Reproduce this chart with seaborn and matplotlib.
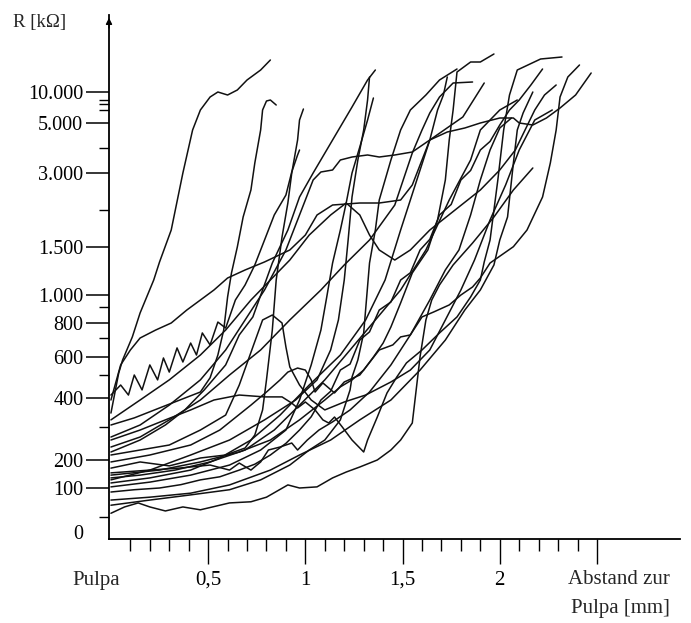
import numpy as np
import pandas as pd
import seaborn as sns
import matplotlib
matplotlib.use('Agg')
import matplotlib.pyplot as plt

# distance to pulp [mm] and resistance [kOhm], one pair of lists per measurement
mm_01 = [0.00, 0.04, 0.06, 0.11, 0.15, 0.22, 0.25, 0.31, 0.37, 0.42, 0.46, 0.51, 0.55, 0.60, 0.65, 0.70, 0.77, 0.82]
kohm_01 = [348, 511, 582, 707, 861, 1155, 1342, 1727, 3000, 4708, 6000, 8779, 10067, 9299, 10516, 12758, 15000, 17500]

mm_02 = [0.00, 0.12, 0.25, 0.38, 0.46, 0.51, 0.55, 0.58, 0.60, 0.62, 0.65, 0.68, 0.72, 0.74, 0.77, 0.78, 0.80, 0.82, 0.85]
kohm_02 = [306, 331, 366, 401, 427, 488, 609, 752, 983, 1228, 1497, 1905, 2541, 3395, 4708, 6000, 7767, 8000, 6877]

mm_03 = [0.00, 0.05, 0.09, 0.12, 0.16, 0.20, 0.24, 0.27, 0.30, 0.34, 0.37, 0.41, 0.44, 0.47, 0.51, 0.55, 0.59, 0.64, 0.69, 0.74, 0.79, 0.84, 0.90, 0.93, 0.96, 0.97]
kohm_03 = [414, 457, 414, 500, 436, 555, 479, 593, 516, 647, 571, 673, 609, 733, 663, 804, 765, 957, 1104, 1311, 1591, 1932, 2405, 3040, 3712, 3909]

mm_04 = [0.00, 0.15, 0.30, 0.46, 0.59, 0.69, 0.74, 0.78, 0.80, 0.83, 0.85, 0.88, 0.91, 0.93, 0.96, 0.97, 0.99]
kohm_04 = [171, 193, 179, 206, 215, 236, 275, 359, 479, 752, 1155, 1632, 2189, 3000, 4308, 5212, 6175]

mm_05 = [0.00, 0.15, 0.28, 0.38, 0.48, 0.59, 0.66, 0.73, 0.78, 0.83, 0.91, 0.97, 1.04, 1.14, 1.24, 1.32, 1.36]
kohm_05 = [224, 260, 306, 359, 436, 555, 720, 836, 1052, 1331, 1727, 2351, 3000, 4308, 6526, 12758, 15000]

mm_06 = [0.00, 0.20, 0.41, 0.61, 0.79, 0.95, 1.06, 1.13, 1.17, 1.20, 1.22, 1.24, 1.27, 1.30, 1.32, 1.33]
kohm_06 = [129, 164, 215, 260, 324, 394, 479, 636, 817, 1155, 1591, 2351, 3514, 4708, 8000, 13430]

mm_07 = [0.00, 0.20, 0.41, 0.61, 0.77, 0.90, 0.97, 1.03, 1.08, 1.11, 1.14, 1.18, 1.21, 1.24, 1.28, 1.32, 1.35]
kohm_07 = [104, 121, 146, 182, 230, 290, 394, 555, 752, 983, 1331, 1727, 2189, 3000, 4028, 5212, 8519]

mm_08 = [0.00, 0.05, 0.10, 0.15, 0.23, 0.31, 0.39, 0.46, 0.53, 0.60, 0.69, 0.79, 0.92, 1.00, 1.06, 1.14, 1.28, 1.38, 1.49, 1.55, 1.60, 1.64, 1.68, 1.71, 1.73]
kohm_08 = [394, 555, 636, 700, 752, 798, 879, 957, 1052, 1176, 1259, 1342, 1466, 1659, 1932, 2135, 2189, 2189, 2270, 2676, 3514, 4308, 6000, 9299, 13430]

mm_09 = [0.00, 0.15, 0.30, 0.46, 0.59, 0.69, 0.79, 0.90, 0.97, 1.04, 1.08, 1.14, 1.18, 1.24, 1.32, 1.38, 1.46, 1.55, 1.64, 1.73, 1.82, 1.90, 2.00, 2.07, 2.10, 2.17, 2.24, 2.31, 2.39, 2.47]
kohm_09 = [269, 306, 376, 479, 636, 817, 1052, 1466, 1932, 2811, 3040, 3119, 3514, 3632, 3712, 3632, 3712, 3830, 4308, 4628, 4788, 4988, 5370, 5370, 4988, 4908, 5370, 6351, 9299, 14327]

mm_10 = [0.00, 0.25, 0.46, 0.66, 0.82, 0.97, 1.10, 1.18, 1.24, 1.30, 1.35, 1.40, 1.44, 1.49, 1.55, 1.63, 1.68, 1.72, 1.74, 1.76, 1.78, 1.85, 1.90, 1.97]
kohm_10 = [146, 164, 193, 224, 260, 324, 394, 449, 479, 527, 598, 673, 772, 932, 1228, 1466, 1864, 2811, 4308, 6000, 14551, 17000, 17000, 19000]

mm_11 = [0.00, 0.15, 0.28, 0.41, 0.53, 0.66, 0.79, 0.88, 0.93, 0.96, 1.00, 1.05, 1.09, 1.12, 1.15, 1.19, 1.24, 1.30, 1.32, 1.37, 1.42, 1.47, 1.52, 1.60, 1.69, 1.78, 1.85, 1.90, 1.92, 1.95, 1.99, 2.02, 2.05, 2.09, 2.21, 2.32]
kohm_11 = [260, 290, 324, 359, 394, 414, 406, 406, 383, 366, 387, 359, 324, 313, 334, 299, 260, 224, 260, 334, 423, 491, 566, 636, 733, 836, 983, 1155, 1342, 1591, 2811, 4708, 9299, 15000, 17750, 18250]

mm_12 = [0.00, 0.20, 0.41, 0.56, 0.72, 0.80, 0.87, 0.91, 0.96, 1.00, 1.03, 1.05, 1.09, 1.15, 1.20, 1.28, 1.38, 1.45, 1.49, 1.54, 1.60, 1.66, 1.74, 1.80, 1.86, 1.90, 1.95, 2.07, 2.14, 2.22, 2.26, 2.29, 2.31, 2.35, 2.41]
kohm_12 = [193, 215, 245, 290, 376, 427, 479, 516, 538, 527, 479, 427, 466, 423, 470, 500, 636, 663, 707, 720, 836, 867, 915, 1000, 1083, 1176, 1331, 1500, 1727, 2351, 3395, 4708, 8779, 13430, 16250]

mm_13 = [0.00, 0.07, 0.14, 0.20, 0.28, 0.37, 0.46, 0.61, 0.72, 0.80, 0.91, 0.97, 1.06, 1.14, 1.21, 1.28, 1.37, 1.44, 1.49, 1.55, 1.57, 1.59, 1.62, 1.65, 1.69, 1.76, 1.86, 1.97, 2.07, 2.17]
kohm_13 = [56, 67, 74, 67, 60, 67, 62, 74, 76, 84, 111, 100, 104, 136, 157, 175, 200, 230, 260, 313, 436, 600, 817, 957, 1104, 1311, 1550, 1905, 2541, 3198]

mm_14 = [0.00, 0.12, 0.25, 0.36, 0.46, 0.56, 0.66, 0.74, 0.82, 0.90, 0.97, 1.03, 1.08, 1.13, 1.18, 1.23, 1.28, 1.33, 1.38, 1.44, 1.49, 1.54, 1.59, 1.64, 1.69, 1.75, 1.80, 1.85, 1.90, 1.95, 2.00, 2.05, 2.10, 2.16, 2.22]
kohm_14 = [93, 97, 100, 112, 129, 140, 164, 185, 215, 250, 290, 335, 394, 430, 527, 560, 689, 740, 879, 940, 1155, 1230, 1466, 1600, 1932, 2150, 2811, 3100, 3909, 4250, 4908, 6000, 8000, 11637, 15250]

mm_15 = [0.00, 0.20, 0.41, 0.61, 0.82, 0.97, 1.13, 1.28, 1.44, 1.59, 1.72, 1.82, 1.90, 1.97, 2.00, 2.04, 2.07, 2.09, 2.12, 2.17]
kohm_15 = [79, 84, 91, 111, 164, 215, 260, 324, 394, 527, 689, 879, 1052, 1311, 1591, 1905, 3395, 4708, 5763, 10067]

mm_16 = [0.00, 0.15, 0.30, 0.46, 0.61, 0.77, 0.92, 1.08, 1.20, 1.33, 1.46, 1.55, 1.60, 1.64, 1.69, 1.76, 1.86]
kohm_16 = [239, 269, 324, 394, 500, 636, 817, 1052, 1311, 1591, 2135, 3791, 4708, 5763, 8779, 12085, 12309]

mm_17 = [0.00, 0.20, 0.41, 0.56, 0.72, 0.87, 1.02, 1.18, 1.31, 1.41, 1.49, 1.54, 1.64, 1.81, 1.92]
kohm_17 = [118, 136, 164, 206, 260, 341, 457, 609, 817, 1155, 1727, 2270, 4308, 5449, 12085]

mm_18 = [0.00, 0.15, 0.33, 0.51, 0.69, 0.84, 0.97, 1.10, 1.23, 1.36, 1.49, 1.62, 1.74, 1.85, 1.90, 2.00, 2.09]
kohm_18 = [136, 146, 164, 193, 230, 290, 376, 479, 636, 817, 1052, 1466, 2270, 3514, 4708, 6000, 8000]

mm_19 = [0.00, 0.15, 0.30, 0.46, 0.59, 0.66, 0.73, 0.78, 0.83, 0.88, 0.90, 0.92, 0.97, 1.03, 1.10, 1.20, 1.31, 1.44, 1.54, 1.64, 1.72, 1.80, 1.87, 1.95, 2.03, 2.10, 2.18, 2.27]
kohm_19 = [215, 230, 245, 290, 341, 457, 652, 817, 848, 798, 652, 544, 457, 394, 359, 387, 414, 470, 527, 636, 817, 1052, 1362, 1864, 2676, 3909, 5212, 6000]

mm_20 = [0.00, 0.20, 0.41, 0.61, 0.77, 0.92, 1.02, 1.10, 1.18, 1.23, 1.24, 1.27, 1.30, 1.33, 1.36, 1.38, 1.44, 1.49, 1.54, 1.62, 1.69, 1.78]
kohm_20 = [70, 79, 88, 97, 129, 182, 230, 260, 324, 436, 491, 582, 733, 1331, 1727, 2270, 3514, 4708, 6000, 9299, 12758, 15250]

mm_21 = [0.00, 0.15, 0.30, 0.46, 0.59, 0.72, 0.82, 0.92, 1.02, 1.13, 1.21, 1.28, 1.33, 1.38, 1.46, 1.54, 1.64, 1.77, 1.90, 2.00, 2.08, 2.13, 2.18, 2.23, 2.29]
kohm_21 = [324, 394, 479, 609, 752, 957, 1155, 1362, 1659, 1932, 2189, 1932, 1659, 1466, 1362, 1466, 1727, 2000, 2541, 3119, 3909, 4708, 6000, 9299, 11637]

mm_22 = [0.00, 0.20, 0.35, 0.51, 0.61, 0.66, 0.72, 0.77, 0.81, 0.87, 0.93, 0.96, 1.01, 1.07, 1.14, 1.23, 1.33, 1.44, 1.54, 1.64, 1.72, 1.79, 1.85, 1.90, 1.95, 2.00, 2.06]
kohm_22 = [154, 164, 171, 182, 164, 189, 164, 193, 230, 239, 251, 230, 260, 290, 317, 359, 427, 555, 720, 957, 1259, 1466, 1932, 2811, 3909, 4788, 5370]

# axis ticks as printed on the original figure
y_ticks = [0, 100, 200, 400, 600, 800, 1000, 1500, 3000, 5000, 10000]
y_labels = ['0', '100', '200', '400', '600', '800', '1.000', '1.500', '3.000', '5.000', '10.000']
y_minor = [50, 300, 500, 700, 900, 2000, 4000, 6000, 7000, 8000]
x_ticks = [0.5, 1.0, 1.5, 2.0, 2.5]
x_labels = ['0,5', '1', '1,5', '2', '']
x_minor = [0.1, 0.2, 0.3, 0.4, 0.6, 0.7, 0.8, 0.9, 1.1, 1.2, 1.3, 1.4,
           1.6, 1.7, 1.8, 1.9, 2.1, 2.2, 2.3, 2.4]

# the R axis is drawn on an irregular hand-made scale: value -> height (px above the x axis)
scale_r = [-25, 0, 50, 100, 200, 300, 400, 500, 600, 700, 800, 900, 1000,
           1500, 2000, 3000, 4000, 5000, 6000, 7000, 8000, 10000, 15000, 20000, 30000]
scale_h = [0, 7, 22.3, 51, 79, 112.3, 140.7, 164, 182.3, 201, 216.3, 232.3, 244,
           292.3, 329, 366, 391.3, 416.3, 429, 434.7, 439, 446.7, 469, 489, 524]


def fwd(r):
    return np.interp(r, scale_r, scale_h)


def inv(h):
    return np.interp(h, scale_h, scale_r)


sns.set_style('white')
plt.rcParams['font.family'] = ['Liberation Serif', 'DejaVu Serif']

curves = [(mm_01, kohm_01), (mm_02, kohm_02), (mm_03, kohm_03), (mm_04, kohm_04),
          (mm_05, kohm_05), (mm_06, kohm_06), (mm_07, kohm_07), (mm_08, kohm_08),
          (mm_09, kohm_09), (mm_10, kohm_10), (mm_11, kohm_11), (mm_12, kohm_12),
          (mm_13, kohm_13), (mm_14, kohm_14), (mm_15, kohm_15), (mm_16, kohm_16),
          (mm_17, kohm_17), (mm_18, kohm_18), (mm_19, kohm_19), (mm_20, kohm_20),
          (mm_21, kohm_21), (mm_22, kohm_22)]
df = pd.concat([pd.DataFrame({'mm': x, 'kohm': r, 'curve': i})
                for i, (x, r) in enumerate(curves)], ignore_index=True)

fig = plt.figure(figsize=(6.91, 6.23), dpi=100)
ax = fig.add_axes([109 / 691, 84 / 623, 571 / 691, 524 / 623])
ax.set_yscale('function', functions=(fwd, inv))

sns.lineplot(data=df, x='mm', y='kohm', units='curve', estimator=None, sort=False,
             color='#111111', lw=1.1, legend=False, ax=ax)

ax.set_xlim(-0.01, 2.927)
ax.set_ylim(-25, 30000)
ax.set_xlabel('')
ax.set_ylabel('')

for s in ['top', 'right']:
    ax.spines[s].set_visible(False)
for s in ['left', 'bottom']:
    ax.spines[s].set_linewidth(1.3)
    ax.spines[s].set_color('black')

ax.set_yticks(y_ticks, y_labels)
ax.set_yticks(y_minor, minor=True)
ax.set_xticks(x_ticks, x_labels)
ax.set_xticks(x_minor, minor=True)
ax.tick_params(axis='both', which='both', left=True, bottom=True, direction='out', colors='black')
ax.tick_params(axis='y', which='major', length=16.5, width=1.1, pad=2, labelsize=14.5)
ax.tick_params(axis='y', which='minor', length=7, width=1.0)
ax.tick_params(axis='x', which='major', length=18, width=1.0, pad=5, labelsize=15)
ax.tick_params(axis='x', which='minor', length=8.5, width=1.0)
ax.yaxis.get_major_ticks()[0].tick1line.set_visible(False)

# arrow head on the R axis
ax.annotate('', xy=(0, 1.0), xycoords='axes fraction', xytext=(0, 0.97),
            arrowprops=dict(arrowstyle='-|>', color='black', lw=1.0, mutation_scale=9))

fig.text(13 / 691, 1 - 23 / 623, 'R [kΩ]', ha='left', va='center', fontsize=13.5)
fig.text(96 / 691, 1 - 580 / 623, 'Pulpa', ha='center', va='center', fontsize=15)
fig.text(670 / 691, 1 - 580 / 623, 'Abstand zur', ha='right', va='center', fontsize=15)
fig.text(670 / 691, 1 - 609 / 623, 'Pulpa [mm]', ha='right', va='center', fontsize=15)

fig.savefig('out.png', dpi=100)
